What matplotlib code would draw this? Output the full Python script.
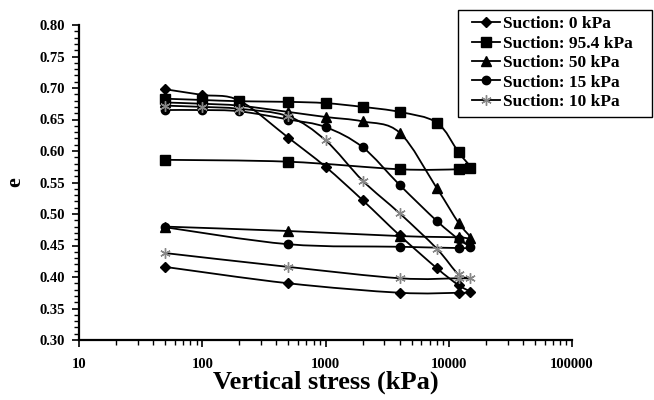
import numpy as np
import matplotlib
matplotlib.use("Agg")
import matplotlib.pyplot as plt
from matplotlib.path import Path
from matplotlib.patches import PathPatch, Rectangle
from matplotlib.ticker import MultipleLocator, LogLocator, FixedLocator, FixedFormatter, NullFormatter
from matplotlib.lines import Line2D

# ---- data ----
stress_loading = [50, 100, 200, 500, 1000, 2000, 4000, 8000, 12000, 15000]
stress_unloading = [12000, 4000, 500, 50]

labels = ["Suction: 0 kPa", "Suction: 95.4 kPa", "Suction: 50 kPa",
          "Suction: 15 kPa", "Suction: 10 kPa"]

e_s0_load = [0.698, 0.689, 0.680, 0.621, 0.575, 0.522, 0.466, 0.414, 0.387, 0.376]
e_s0_unload = [0.375, 0.375, 0.390, 0.416]
e_s95_load = [0.683, 0.681, 0.679, 0.678, 0.676, 0.670, 0.662, 0.645, 0.598, 0.573]
e_s95_unload = [0.571, 0.571, 0.583, 0.586]
e_s50_load = [0.677, 0.675, 0.672, 0.662, 0.654, 0.647, 0.629, 0.541, 0.486, 0.462]
e_s50_unload = [0.463, 0.465, 0.473, 0.480]
e_s15_load = [0.665, 0.665, 0.663, 0.650, 0.638, 0.606, 0.546, 0.489, 0.460, 0.447]
e_s15_unload = [0.446, 0.448, 0.452, 0.479]
e_s10_load = [0.672, 0.670, 0.667, 0.655, 0.617, 0.553, 0.501, 0.445, 0.404, 0.398]
e_s10_unload = [0.398, 0.398, 0.416, 0.438]

x_ticks = [10, 100, 1000, 10000, 100000]
x_ticklabels = ["10", "100", "1000", "10000", "100000"]
y_ticks = [0.30, 0.35, 0.40, 0.45, 0.50, 0.55, 0.60, 0.65, 0.70, 0.75, 0.80]

series = [
    (e_s0_load, e_s0_unload, dict(marker="D", ms=5, mfc="black", mec="black")),
    (e_s95_load, e_s95_unload, dict(marker="s", ms=6.5, mfc="black", mec="black")),
    (e_s50_load, e_s50_unload, dict(marker="^", ms=7, mfc="black", mec="black")),
    (e_s15_load, e_s15_unload, dict(marker="o", ms=6, mfc="black", mec="black")),
    (e_s10_load, e_s10_unload, dict(marker=(6, 2, 0), ms=7.5, mfc="#888888", mec="#888888", mew=1.0)),
]

plt.rcParams["font.family"] = ["Liberation Serif", "DejaVu Serif"]
plt.rcParams["font.weight"] = "bold"

W, H = 654, 400
fig = plt.figure(figsize=(W / 100, H / 100), dpi=100)
ax = fig.add_axes([79 / W, 60 / H, (572 - 79) / W, (340 - 25) / H])
ax.set_xscale("log")
ax.set_xlim(10, 100000)
ax.set_ylim(0.30, 0.80)


def smooth_path(xs, ys):
    # Excel-like smoothed line (Catmull-Rom Bezier) in (log x, y)
    u = np.log10(np.asarray(xs, float))
    v = np.asarray(ys, float)
    n = len(u)
    verts = [(xs[0], ys[0])]
    codes = [Path.MOVETO]
    for i in range(n - 1):
        i0 = max(i - 1, 0)
        i3 = min(i + 2, n - 1)
        c1u = u[i] + (u[i + 1] - u[i0]) / 6.0
        c1v = v[i] + (v[i + 1] - v[i0]) / 6.0
        c2u = u[i + 1] - (u[i3] - u[i]) / 6.0
        c2v = v[i + 1] - (v[i3] - v[i]) / 6.0
        verts += [(10 ** c1u, c1v), (10 ** c2u, c2v), (xs[i + 1], ys[i + 1])]
        codes += [Path.CURVE4] * 3
    return Path(verts, codes)


handles = []
for (ld, ul, mk), lab in zip(series, labels):
    xs = stress_loading + stress_unloading
    ys = ld + ul
    patch = PathPatch(smooth_path(xs, ys), facecolor="none", edgecolor="black", lw=1.3, zorder=2)
    ax.add_patch(patch)
    ax.plot(xs, ys, linestyle="none", zorder=3, **mk)
    handles.append(Line2D([], [], color="black", lw=1.3, **mk))

# axes styling
for s in ["top", "right"]:
    ax.spines[s].set_visible(False)
ax.spines["left"].set_linewidth(1.6)
ax.spines["bottom"].set_linewidth(1.6)

ax.xaxis.set_major_locator(FixedLocator(x_ticks))
ax.xaxis.set_major_formatter(FixedFormatter(x_ticklabels))
ax.xaxis.set_minor_locator(LogLocator(base=10, subs=np.arange(2, 10)))
ax.xaxis.set_minor_formatter(NullFormatter())
ax.yaxis.set_major_locator(FixedLocator(y_ticks))
ax.set_yticklabels([f"{t:.2f}" for t in y_ticks])
ax.yaxis.set_minor_locator(MultipleLocator(0.01))

ax.tick_params(axis="both", which="major", direction="out", length=5, width=1.2, labelsize=10.5)
ax.tick_params(axis="both", which="minor", direction="out", length=3.5, width=1.0)
ax.tick_params(axis="x", which="major", pad=8)
ax.tick_params(axis="y", which="major", pad=5)
for t in ax.get_xticklabels() + ax.get_yticklabels():
    t.set_fontweight("bold")

ax.set_xlabel("Vertical stress (kPa)", fontsize=19, fontweight="bold", labelpad=0)
ax.set_ylabel("e", fontsize=16, fontweight="bold", labelpad=10)

# legend box (frame drawn separately to match the padding)
fig.patches.append(Rectangle((458 / W, 1 - 117 / H), (652 - 458) / W, (117 - 10) / H,
                             transform=fig.transFigure, facecolor="white",
                             edgecolor="black", lw=1.0, zorder=5))
leg = fig.legend(handles, labels, loc="upper left", bbox_to_anchor=(472 / W, 1 - 16 / H),
                 prop=dict(family="Liberation Serif", weight="bold", size=12.5),
                 frameon=False, borderpad=0, borderaxespad=0,
                 labelspacing=0.19, handlelength=1.6, handletextpad=0.2)
leg.set_zorder(6)

fig.savefig("out.png", dpi=100)
